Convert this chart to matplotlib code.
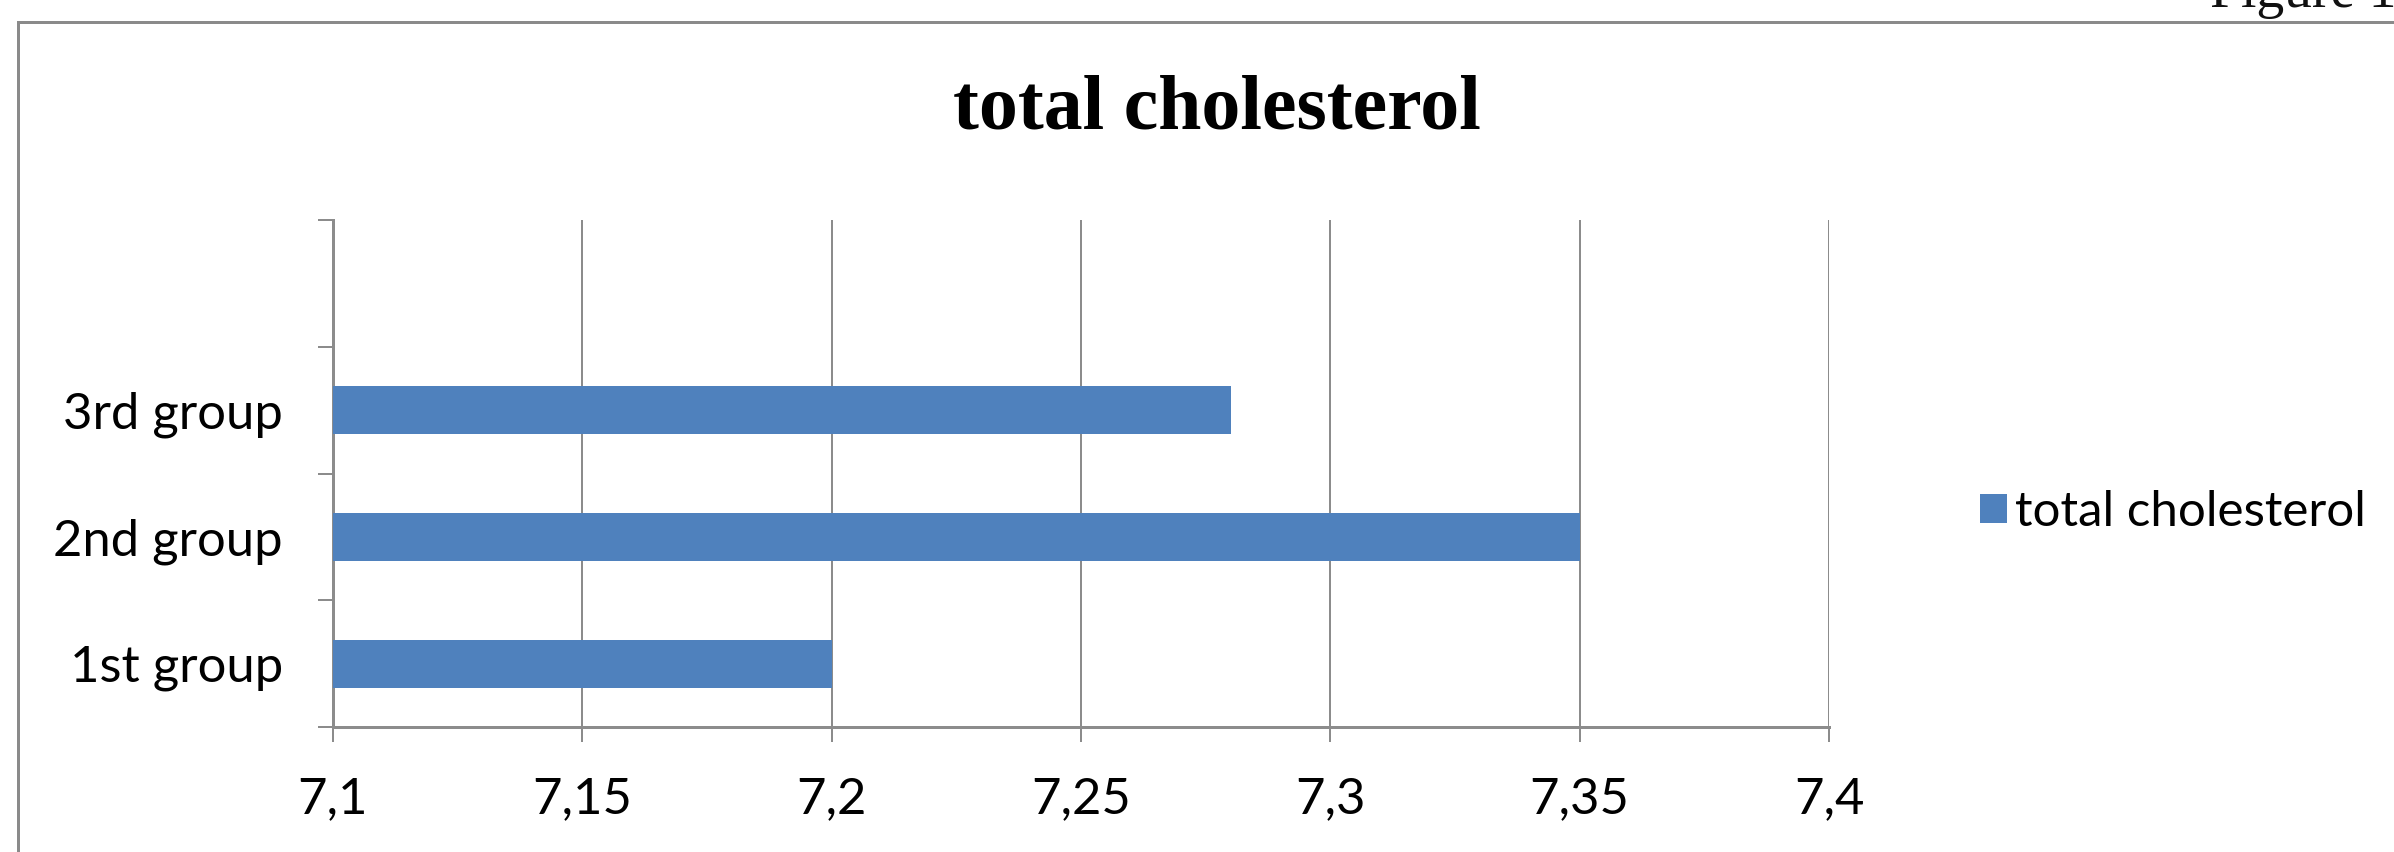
import matplotlib.pyplot as plt
from matplotlib.lines import Line2D

# values
groups = ["1st group", "2nd group", "3rd group"]
cholesterol = [7.20, 7.35, 7.28]
x_ticks = [7.1, 7.15, 7.2, 7.25, 7.3, 7.35, 7.4]
x_tick_labels = ["7,1", "7,15", "7,2", "7,25", "7,3", "7,35", "7,4"]

blue = "#4F81BD"
grey = "#8C8C8C"
px = 72 / 100  # points per pixel at dpi 100

fig = plt.figure(figsize=(23.94, 8.52), dpi=100)

# outer chart frame: only the left and top edges are visible
fl, ft = 18 / 2394, 1 - 22 / 852
fig.lines.append(Line2D([fl, fl], [0, ft], transform=fig.transFigure,
                        color="#8a8a8a", linewidth=3 * px))
fig.lines.append(Line2D([fl, 1], [ft, ft], transform=fig.transFigure,
                        color="#8a8a8a", linewidth=3 * px))

# caption of the page, cut by the top edge
fig.text(2210 / 2394, 1 - 7 / 852, "Figure 1", family="Liberation Serif",
         fontsize=40, va="baseline", ha="left", color="#111111")

ax = fig.add_axes([333 / 2394, 1 - 727 / 852, (1829 - 333) / 2394, (727 - 220) / 852])

ypos = list(range(len(groups)))
ax.barh(ypos, cholesterol, height=0.38, color=blue, label="total cholesterol", zorder=3)

ax.set_xlim(7.1, 7.4)
ax.set_ylim(-0.5, 3.5)
ax.set_xticks(x_ticks)
ax.set_xticklabels(x_tick_labels, family="Lato", fontsize=36.5)
ax.set_yticks(ypos)
ax.set_yticklabels(groups, family="Lato", fontsize=36.5)
ax.set_yticks([-0.5, 0.5, 1.5, 2.5, 3.5], minor=True)

ax.tick_params(axis="y", which="major", length=0, pad=50 * px)
ax.tick_params(axis="y", which="minor", length=15 * px, width=2 * px, color=grey)
ax.tick_params(axis="x", length=15 * px, width=2 * px, color=grey, pad=34 * px)

ax.grid(axis="x", color=grey, linewidth=2 * px, zorder=0)
for side in ["top", "right"]:
    ax.spines[side].set_visible(False)
for side in ["left", "bottom"]:
    ax.spines[side].set_color(grey)
    ax.spines[side].set_linewidth(3 * px)

fig.text(1217 / 2394, 1 - 110 / 852, "total cholesterol", family="Liberation Serif",
         fontweight="bold", fontsize=56, ha="center", va="center")

ax.legend(loc="center left", bbox_to_anchor=(1980 / 2394, 1 - 512 / 852),
          bbox_transform=fig.transFigure, frameon=False, prop={"family": "Lato", "size": 35.5},
          handlelength=0.55, handleheight=0.55, handletextpad=0.15, borderpad=0,
          borderaxespad=0)

fig.savefig("out.png", dpi=100)
